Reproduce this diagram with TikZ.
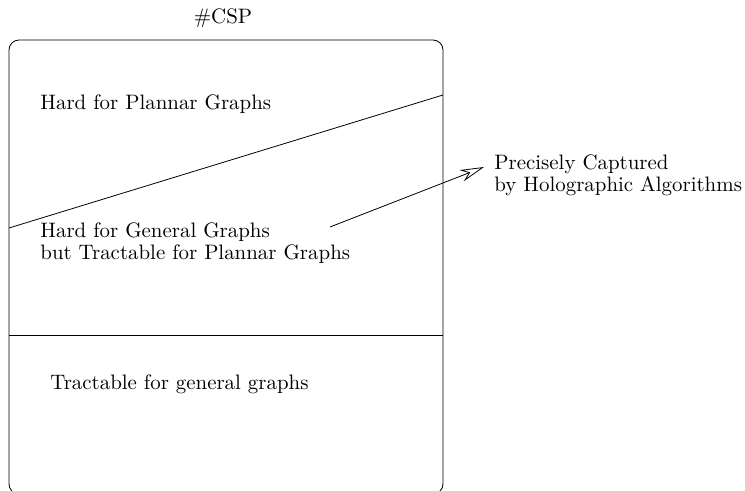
\documentclass[tikz,border=0pt]{standalone}
\usetikzlibrary{arrows.meta}
\begin{document}
\begin{tikzpicture}[x=0.5pt,y=-0.5pt,
  lbl/.style={anchor=west,align=left,inner sep=0pt,font=\fontsize{10.45}{11}\selectfont},
  every path/.style={line width=0.4pt}]
\useasboundingbox (0,0) rectangle (745,491);
\node[inner sep=0pt,font=\fontsize{10.45}{11}\selectfont] (title) at (223,18) {\#CSP};
\draw[rounded corners=5pt] (9,40) rectangle (443,494);
\coordinate (dl) at (9,228);
\coordinate (dr) at (443,95);
\draw (dl) -- (dr);
\coordinate (hl) at (9,335);
\coordinate (hr) at (443,335);
\draw (hl) -- (hr);
\node[lbl] (hp) at (40,104) {Hard for Plannar Graphs};
\node[lbl] (hg) at (40,243) {Hard for General Graphs\\but Tractable for Plannar Graphs};
\node[lbl] (tg) at (50,384) {Tractable for general graphs};
\node[lbl] (pc) at (494,175) {Precisely Captured\\by Holographic Algorithms};
\coordinate (as) at (330,227);
\coordinate (ae) at (484,167);
\draw[-{Stealth[open,length=12,width=6]}] (as) -- (ae);
\end{tikzpicture}
\end{document}
